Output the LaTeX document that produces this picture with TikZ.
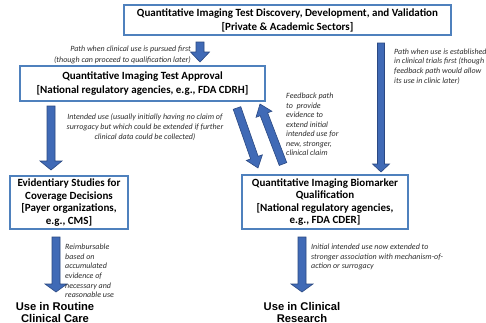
\documentclass[tikz,border=0pt]{standalone}
\usepackage{fontspec}
\setmainfont{Carlito}
\newfontfamily\arialf{Liberation Sans}
\usetikzlibrary{calc}
\definecolor{boxblue}{RGB}{79,129,189}
\definecolor{arrfill}{RGB}{64,106,182}
\definecolor{arrline}{RGB}{42,72,130}
\definecolor{labgray}{RGB}{45,45,45}
\tikzset{
  qbox/.style={draw=boxblue, line width=1.3pt, fill=white, inner sep=0pt, align=center,
    font=\fontsize{11}{14}\selectfont\bfseries},
  qbox4/.style={qbox, font=\fontsize{11}{12.5}\selectfont\bfseries},
  lab/.style={inner sep=0pt, text=labgray, font=\fontsize{8}{9.6}\selectfont\itshape},
  endlab/.style={inner sep=0pt, align=center, font=\fontsize{11.2}{12.8}\selectfont\arialf\bfseries},
  barrow/.style={fill=arrfill, draw=arrline, line width=0.6pt, line join=miter}
}
% block arrow: start, end, shaft half width, head half width, head length
\newcommand\blockarr[5]{%
  \coordinate (bneck) at ($(#2)!#5!(#1)$);
  \filldraw[barrow] ($(#1)!#3!90:(#2)$) -- ($(bneck)!#3!90:(#2)$) -- ($(bneck)!#4!90:(#2)$)
    -- (#2) -- ($(bneck)!#4!-90:(#2)$) -- ($(bneck)!#3!-90:(#2)$) -- ($(#1)!#3!-90:(#2)$) -- cycle;
}
\begin{document}
\begin{tikzpicture}[x=1pt,y=-1pt]
\useasboundingbox (0,0) rectangle (486,322);
\clip (0,0) rectangle (486,322);
\fill[white] (0,0) rectangle (486,322);

% boxes
\node[qbox, minimum width=327pt, minimum height=30pt] (top) at (287.5,20)
  {Quantitative Imaging Test Discovery, Development, and Validation\\{}[Private \& Academic Sectors]};
\node[qbox, minimum width=245pt, minimum height=35pt] (appr) at (142.5,83.5)
  {Quantitative Imaging Test Approval\\{}[National regulatory agencies, e.g., FDA CDRH]};
\node[qbox4, minimum width=118pt, minimum height=53pt] (evid) at (69,202.5)
  {Evidentiary Studies for\\Coverage Decisions\\{}[Payer organizations,\\e.g., CMS]};
\node[qbox4, minimum width=166pt, minimum height=54pt] (qual) at (325,202)
  {Quantitative Imaging Biomarker\\Qualification\\{}[National regulatory agencies,\\e.g., FDA CDER]};

% end texts
\node[endlab] (routine) at (55,312.5) {Use in Routine\\Clinical Care};
\node[endlab] (research) at (302,312.5) {Use in Clinical\\Research};

% arrow end points
\coordinate (a1s) at (200,42);   \coordinate (a1e) at (200,62);
\coordinate (a2s) at (381,43);   \coordinate (a2e) at (381,172);
\coordinate (a3s) at (51,106);   \coordinate (a3e) at (51,170);
\coordinate (a4s) at (56,237);   \coordinate (a4e) at (56,292);
\coordinate (a5s) at (302,237);  \coordinate (a5e) at (302,292);
\coordinate (a6s) at (237,108);  \coordinate (a6e) at (258,168);
\coordinate (a7s) at (283,164);  \coordinate (a7e) at (260,104);

\blockarr{a1s}{a1e}{4pt}{9.5pt}{10pt}
\blockarr{a2s}{a2e}{3.5pt}{8.5pt}{8pt}
\blockarr{a3s}{a3e}{4pt}{11pt}{9pt}
\blockarr{a4s}{a4e}{4pt}{11pt}{8pt}
\blockarr{a5s}{a5e}{4pt}{11pt}{8pt}
\blockarr{a6s}{a6e}{4pt}{8.5pt}{11pt}
\blockarr{a7s}{a7e}{4pt}{8.5pt}{11pt}

% labels
\node[lab, anchor=east, align=right, font=\fontsize{8}{11}\selectfont\itshape] (l1) at (191,54.5)
  {Path when clinical use is pursued first\\(though can proceed to qualification later)};
\node[lab, anchor=west, align=left] (l2) at (394,66.5)
  {Path when use is established\\in clinical trials first (though\\feedback path would allow\\its use in clinic later)};
\node[lab, align=center, font=\fontsize{8}{10}\selectfont\itshape] (l3) at (145,127)
  {Intended use (usually initially having no claim of\\surrogacy but which could be extended if further\\clinical data could be collected)};
\node[lab, anchor=west, align=left, font=\fontsize{8}{9.5}\selectfont\itshape] (l4) at (286,124.5)
  {Feedback path\\to~~provide\\evidence to\\extend initial\\intended use for\\new, stronger,\\clinical claim};
\node[lab, anchor=west, align=left] (l5) at (65,271)
  {Reimbursable\\based on\\accumulated\\evidence of\\necessary and\\reasonable use};
\node[lab, anchor=west, align=left, font=\fontsize{8}{9.2}\selectfont\itshape] (l6) at (311,257)
  {Initial intended use now extended to\\stronger association with mechanism-of-\\action or surrogacy};
\end{tikzpicture}
\end{document}
